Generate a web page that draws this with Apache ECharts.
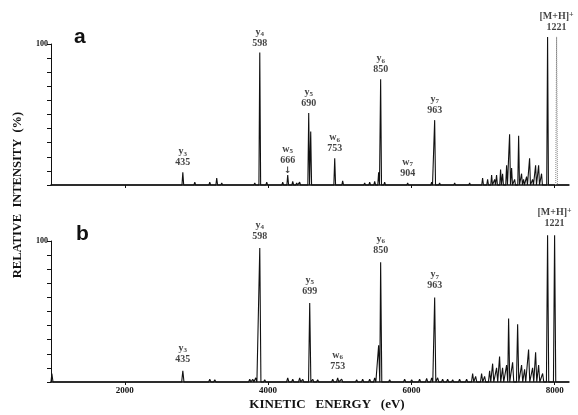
<!DOCTYPE html>
<html>
<head>
<meta charset="utf-8">
<script src="https://cdn.jsdelivr.net/npm/echarts@6/dist/echarts.min.js"></script>
<style>
  html, body { margin: 0; padding: 0; background: #fff; }
  #chart { width: 578px; height: 415px; }
</style>
</head>
<body>
<div id="chart"></div>
<script>
// spectrum peaks, [kinetic energy (eV), relative intensity (%)]
var peaksA = [
  [2209, 1], [2558, 1], [2656, 1], [2810, 9], [2977, 2], [3186, 2], [3283, 5], [3353, 1.5],
  [3604, 1], [3744, 1], [3814, 1.5], [3884, 94], [3981, 2], [4093, 1], [4204, 2], [4274, 7],
  [4344, 2.5], [4399, 1.5], [4441, 2], [4567, 51], [4595, 38], [4692, 1], [4790, 1], [4930, 19],
  [5041, 3], [5139, 1], [5236, 1], [5348, 1.5], [5418, 2], [5488, 2.5], [5543, 9], [5571, 75],
  [5627, 2], [5725, 1], [5836, 1], [5948, 1.5], [6046, 1], [6185, 1], [6283, 2], [6325, 46],
  [6394, 1.5], [6492, 1], [6604, 1.5], [6701, 1], [6813, 1.5], [6910, 1], [6994, 5], [7064, 4],
  [7120, 7], [7162, 4], [7189, 7], [7245, 11], [7273, 8], [7329, 14], [7371, 36], [7399, 12],
  [7441, 4], [7497, 35], [7538, 8], [7566, 4], [7608, 6], [7650, 19], [7692, 4], [7734, 14],
  [7776, 14], [7817, 8], [7901, 105], [8069, 1]
];
var beamA = [[8027, 105]];   // dotted trace in panel a

var peaksB = [
  [982, 6], [2810, 8], [3186, 2], [3256, 1.5], [3465, 1], [3604, 1], [3744, 2], [3786, 2],
  [3828, 3], [3884, 95], [3953, 1.5], [4023, 1], [4274, 3], [4344, 2], [4441, 3], [4483, 2],
  [4581, 56], [4623, 2], [4692, 1.5], [4790, 1], [4902, 2], [4971, 3], [5027, 2], [5236, 1.5],
  [5320, 2], [5418, 2], [5488, 3], [5543, 26], [5571, 85], [5697, 1.5], [5767, 1], [5906, 2],
  [6004, 1.5], [6115, 2], [6213, 2.5], [6283, 3], [6325, 60], [6367, 3], [6436, 2], [6506, 2],
  [6576, 1.5], [6673, 2], [6771, 2], [6855, 6], [6897, 4], [6980, 6], [7022, 4], [7092, 8],
  [7134, 13], [7189, 10], [7231, 18], [7273, 10], [7329, 12], [7357, 45], [7413, 14], [7483, 41],
  [7538, 12], [7580, 9], [7636, 23], [7692, 10], [7734, 21], [7776, 12], [7832, 6], [7901, 104],
  [7999, 104], [8069, 1]
];

// fragment labels
var ionsA = ['y3', 'w5', 'y4', 'y5', 'w6', 'y6', 'w7', 'y7', 'M+H'];
var massA = ['435', '666', '598', '690', '753', '850', '904', '963', '1221'];
var ionEA = [2810, 4274, 3884, 4567, 4930, 5571, 5948, 6325, 8027];

var ionsB = ['y3', 'y4', 'y5', 'w6', 'y6', 'y7', 'M+H'];
var massB = ['435', '598', '699', '753', '850', '963', '1221'];
var ionEB = [2810, 3884, 4581, 4971, 5571, 6325, 7999];

var xTicks = [2000, 4000, 6000, 8000];
var XMIN = 970, XMAX = 8200;

function trace(peaks, hw, withBase) {
  var pts = withBase ? [[XMIN, 0]] : [];
  peaks.forEach(function (p) {
    pts.push([p[0] - hw, 0], [p[0], p[1]], [p[0] + hw, 0]);
  });
  if (withBase) pts.push([XMAX, 0]);
  return pts;
}

function heightAt(peaks, e) {
  var h = 0;
  peaks.forEach(function (p) { if (Math.abs(p[0] - e) < 5) h = Math.max(h, p[1]); });
  return h;
}

function ionLabels(ions, masses, energies, peaks, gap) {
  return ions.map(function (ion, i) {
    var txt;
    if (ion === 'M+H') txt = '{t|[M+H]}{sup|+}\n{n|' + masses[i] + '}';
    else txt = '{t|' + ion.charAt(0) + '}{sub|' + ion.slice(1) + '}\n{n|' + masses[i] + '}';
    if (ion === 'w5') txt += '\n{arr|\u2193}';
    return {
      value: [energies[i], heightAt(peaks, energies[i])],
      label: { formatter: txt, distance: ion === 'w5' ? 0 : gap }
    };
  });
}

var serif = '"Liberation Serif", "DejaVu Serif", serif';
var rich = {
  t: { fontSize: 10, fontFamily: serif, fontWeight: 'bold', lineHeight: 11, color: '#111' },
  sub: { fontSize: 7, fontFamily: serif, fontWeight: 'bold', lineHeight: 7, verticalAlign: 'bottom', color: '#111' },
  sup: { fontSize: 8, fontFamily: serif, fontWeight: 'bold', lineHeight: 8, verticalAlign: 'top', color: '#111' },
  n: { fontSize: 10, fontFamily: serif, fontWeight: 'bold', lineHeight: 11, color: '#111' },
  arr: { fontSize: 9, fontFamily: '"DejaVu Sans"', fontWeight: 'bold', lineHeight: 9, color: '#111' }
};

function xAxisFor(idx, showLabels) {
  return {
    type: 'value', gridIndex: idx, min: XMIN, max: XMAX,
    axisLine: { lineStyle: { color: '#111', width: 1.5 } },
    axisTick: { show: true, length: 3, customValues: xTicks, lineStyle: { color: '#111', width: 1 } },
    axisLabel: {
      show: showLabels, customValues: xTicks, margin: 4,
      fontSize: 9, fontWeight: 'bold', fontFamily: serif, color: '#111',
      formatter: function (v) { return String(v); }
    },
    splitLine: { show: false }
  };
}

function yAxisFor(idx) {
  return {
    type: 'value', gridIndex: idx, min: 0, max: 100, interval: 10,
    axisLine: { show: true, lineStyle: { color: '#111', width: 1 } },
    axisTick: { show: true, inside: false, length: 4, lineStyle: { color: '#111', width: 1 } },
    axisLabel: {
      margin: 3, fontSize: 8, fontWeight: 'bold', fontFamily: serif, color: '#111',
      formatter: function (v) { return v === 100 ? '100' : ''; }
    },
    splitLine: { show: false }
  };
}

var chart = echarts.init(document.getElementById('chart'));
chart.setOption({
  backgroundColor: '#fff',
  animation: false,
  grid: [
    { left: 51, top: 44, width: 518, height: 141 },
    { left: 51, top: 241, width: 518, height: 141 }
  ],
  xAxis: [xAxisFor(0, false), xAxisFor(1, true)],
  yAxis: [yAxisFor(0), yAxisFor(1)],
  graphic: [
    { type: 'text', left: 74, top: 27, style: { text: 'a', fontSize: 21, fontWeight: 'bold', fontFamily: '"Liberation Sans", sans-serif', fill: '#111' } },
    { type: 'text', left: 76, top: 224, style: { text: 'b', fontSize: 21, fontWeight: 'bold', fontFamily: '"Liberation Sans", sans-serif', fill: '#111' } },
    {
      type: 'text', x: 18, y: 195, rotation: Math.PI / 2,
      style: { text: 'RELATIVE  INTENSITY  (%)', fontSize: 12.5, fontWeight: 'bold', fontFamily: serif, fill: '#111', align: 'center', verticalAlign: 'middle' }
    },
    {
      type: 'text', x: 327, y: 405,
      style: { text: 'KINETIC   ENERGY   (eV)', fontSize: 13, fontWeight: 'bold', fontFamily: serif, fill: '#111', align: 'center', verticalAlign: 'middle' }
    }
  ],
  series: [
    {
      type: 'line', xAxisIndex: 0, yAxisIndex: 0, data: trace(peaksA, 12, true),
      showSymbol: false, clip: false, lineStyle: { color: '#111', width: 1.1 }
    },
    {
      type: 'line', xAxisIndex: 0, yAxisIndex: 0, data: trace(beamA, 12, false),
      showSymbol: false, clip: false, lineStyle: { color: '#888', width: 1, type: 'dotted' }
    },
    {
      type: 'line', xAxisIndex: 1, yAxisIndex: 1, data: trace(peaksB, 16, true),
      showSymbol: false, clip: false, lineStyle: { color: '#111', width: 1.1 }
    },
    {
      type: 'scatter', xAxisIndex: 0, yAxisIndex: 0, symbolSize: 0, silent: true, clip: false,
      data: ionLabels(ionsA, massA, ionEA, peaksA.concat(beamA), 4),
      label: { show: true, position: 'top', align: 'center', rich: rich }
    },
    {
      type: 'scatter', xAxisIndex: 1, yAxisIndex: 1, symbolSize: 0, silent: true, clip: false,
      data: ionLabels(ionsB, massB, ionEB, peaksB, 6),
      label: { show: true, position: 'top', align: 'center', rich: rich }
    }
  ]
});
</script>
</body>
</html>
